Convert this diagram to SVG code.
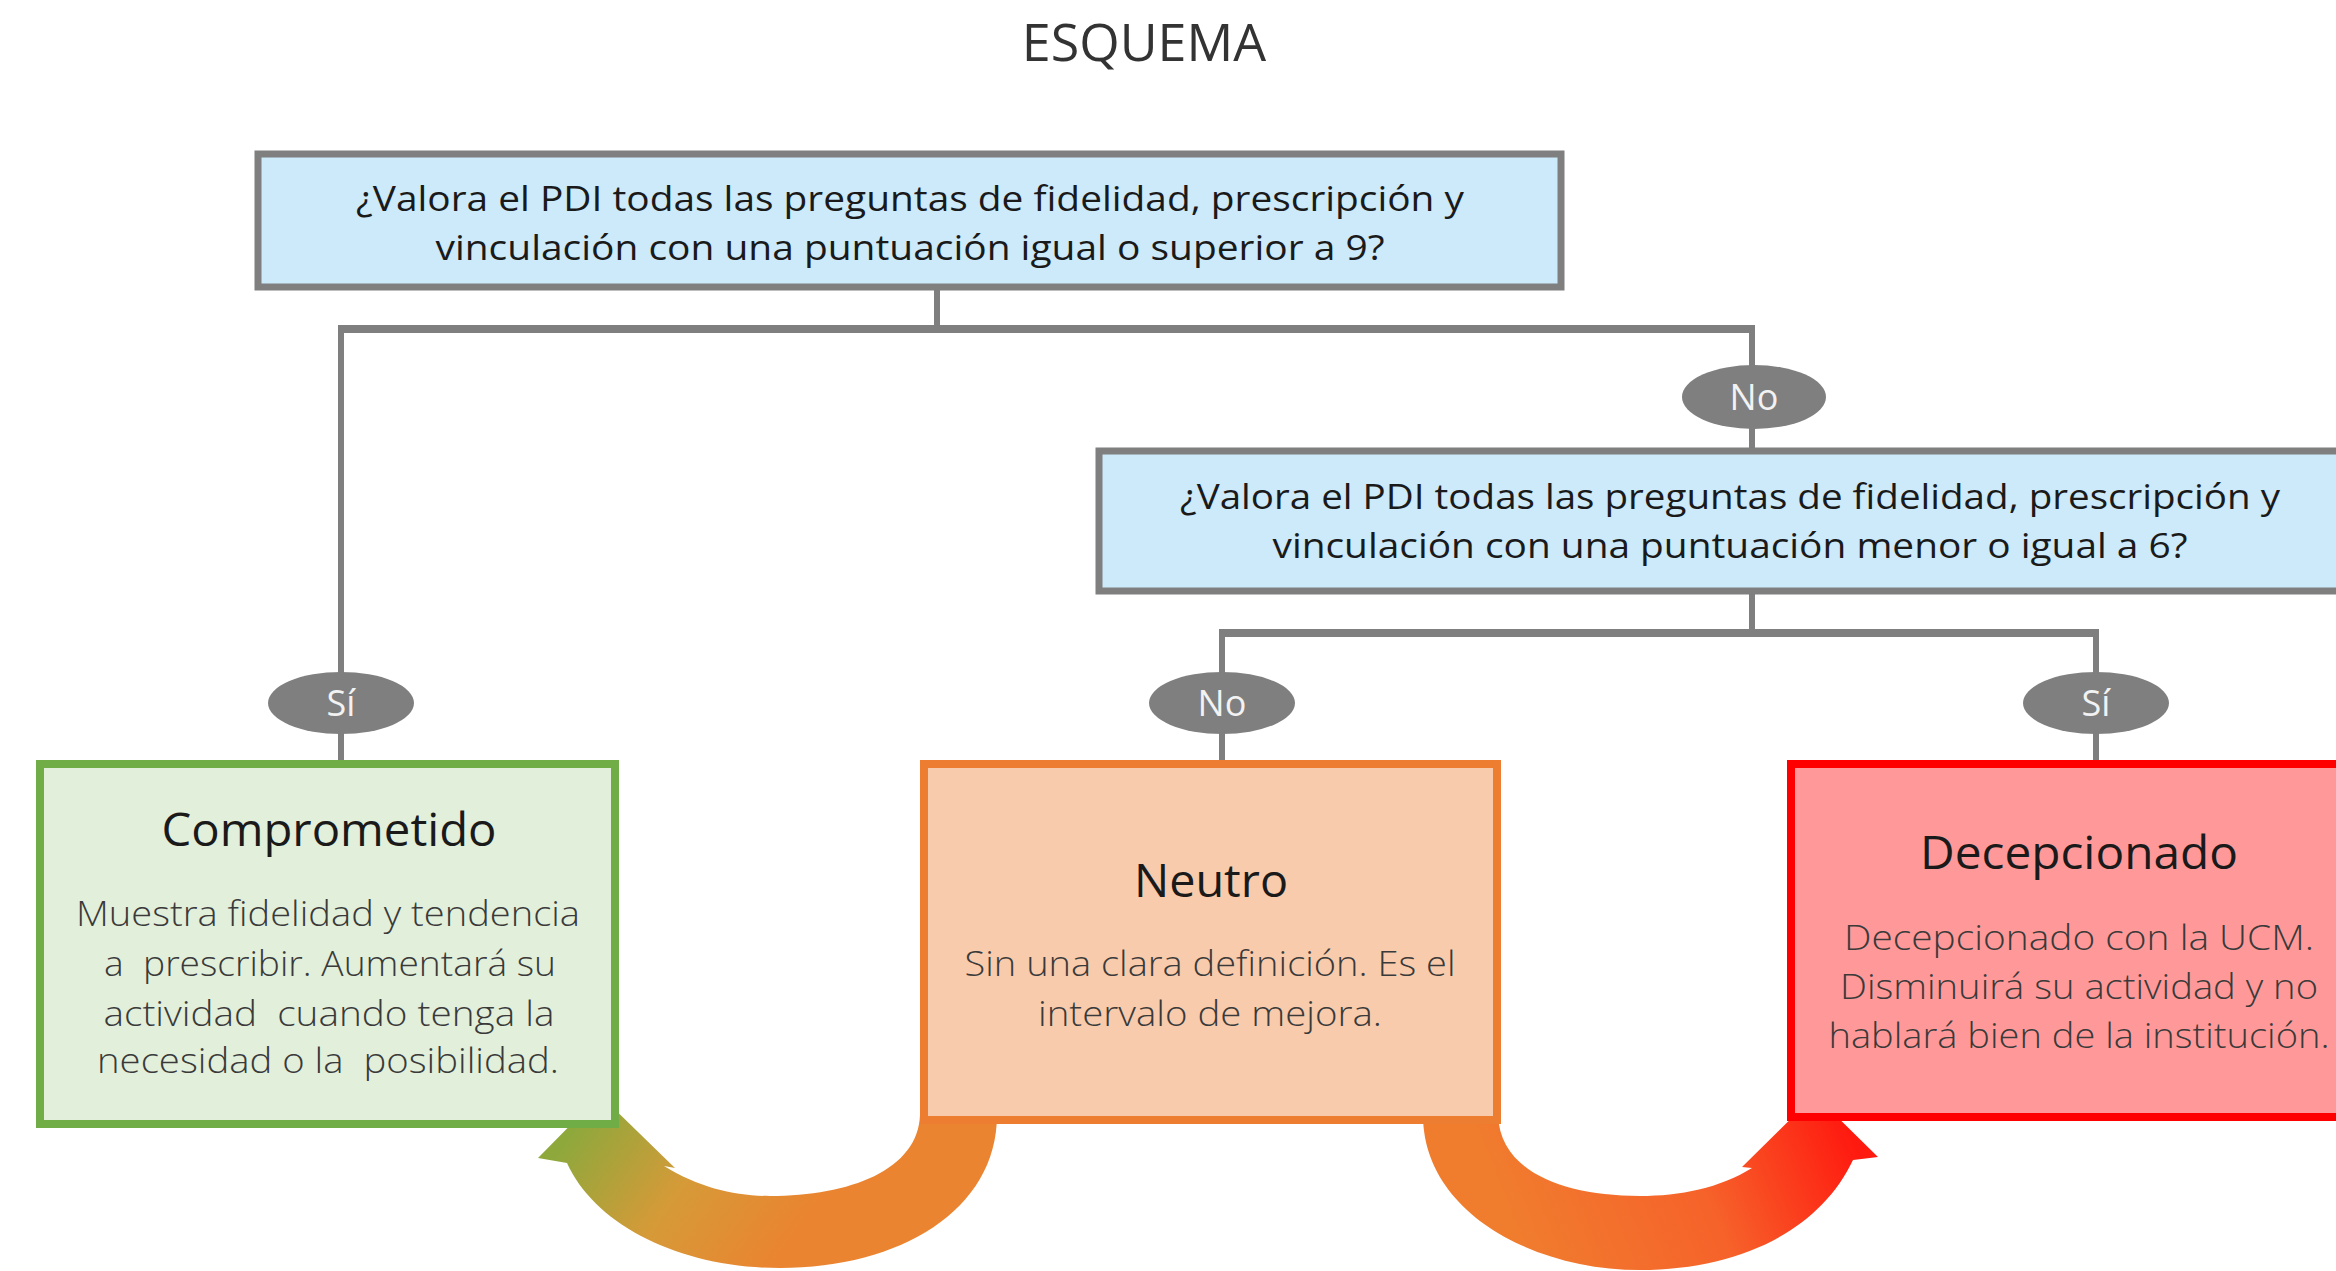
<svg xmlns="http://www.w3.org/2000/svg" width="2336" height="1271" viewBox="0 0 2336 1271">
<style>
.q{fill:#cdeafb;stroke:#7f7f7f;stroke-width:7}
.qt{font-family:"Open Sans","Liberation Sans",sans-serif;font-size:35px;fill:#1a1a1a;text-anchor:middle}
.ln{stroke:#7f7f7f;stroke-width:6;fill:none}
.hl{stroke:#7f7f7f;stroke-width:8;fill:none}
.el{fill:#7f7f7f}
.et{font-family:"Open Sans","Liberation Sans",sans-serif;font-size:36px;fill:#f2f2f2;text-anchor:middle}
.tt{font-family:"Open Sans","Liberation Sans",sans-serif;font-size:46px;fill:#1a1a1a;text-anchor:middle}
.bt{font-family:"Open Sans","Liberation Sans",sans-serif;font-weight:300;font-size:35px;fill:#3a3a3a;text-anchor:middle;white-space:pre}
</style>
<defs>
<linearGradient id="g1" gradientUnits="userSpaceOnUse" x1="575" y1="1130" x2="770" y2="1268">
<stop offset="0" stop-color="#8fa83c"/>
<stop offset="0.5" stop-color="#d69a38"/>
<stop offset="1" stop-color="#ea8430"/>
</linearGradient>
<linearGradient id="g2" gradientUnits="userSpaceOnUse" x1="1520" y1="1240" x2="1840" y2="1110">
<stop offset="0" stop-color="#f07c2e"/>
<stop offset="0.55" stop-color="#f6622a"/>
<stop offset="1" stop-color="#ff1a10"/>
</linearGradient>
</defs>
<rect width="2336" height="1271" fill="#ffffff"/>
<text x="1144" y="61" font-family="'Open Sans','Liberation Sans',sans-serif" font-size="52" fill="#333333" text-anchor="middle">ESQUEMA</text>

<g id="arrows">
<path fill="url(#g1)" d="M997,1115 C997,1210 900,1268 780,1268 C680,1268 595,1225 567,1163 L538,1158 L600,1095 L675,1168 L664,1166 C700,1188 735,1196 770,1196 C850,1196 918,1170 920,1115 Z"/>
<path fill="url(#g2)" d="M1423,1115 C1423,1210 1530,1270 1640,1270 C1740,1270 1820,1230 1853,1160 L1878,1157 L1815,1095 L1742,1167 L1752,1168 C1720,1188 1680,1196 1640,1196 C1560,1196 1500,1170 1498,1115 Z"/>
</g>

<g id="connectors">
<line class="ln" x1="937" y1="289" x2="937" y2="329"/>
<line class="hl" x1="338" y1="329" x2="1755" y2="329"/>
<line class="ln" x1="341" y1="329" x2="341" y2="764"/>
<line class="ln" x1="1752" y1="329" x2="1752" y2="452"/>
<line class="ln" x1="1752" y1="592" x2="1752" y2="633"/>
<line class="hl" x1="1219" y1="633" x2="2099" y2="633"/>
<line class="ln" x1="1222" y1="633" x2="1222" y2="764"/>
<line class="ln" x1="2096" y1="633" x2="2096" y2="764"/>
</g>

<g id="label-si-1"><ellipse class="el" cx="341" cy="703" rx="73" ry="31"/><text class="et" x="341" y="716">Sí</text></g>
<g id="label-no-1"><ellipse class="el" cx="1754" cy="397" rx="72" ry="32"/><text class="et" x="1754" y="410">No</text></g>
<g id="label-no-2"><ellipse class="el" cx="1222" cy="703" rx="73" ry="31"/><text class="et" x="1222" y="716">No</text></g>
<g id="label-si-2"><ellipse class="el" cx="2096" cy="703" rx="73" ry="31"/><text class="et" x="2096" y="716">Sí</text></g>

<g id="q1">
<rect class="q" x="258" y="154" width="1303" height="133"/>
<text class="qt" x="910" y="211" textLength="1108" lengthAdjust="spacingAndGlyphs">¿Valora el PDI todas las preguntas de fidelidad, prescripción y</text>
<text class="qt" x="910" y="260" textLength="949" lengthAdjust="spacingAndGlyphs">vinculación con una puntuación igual o superior a 9?</text>
</g>

<g id="q2">
<rect class="q" x="1099" y="451" width="1300" height="140"/>
<text class="qt" x="1730" y="509" textLength="1100" lengthAdjust="spacingAndGlyphs">¿Valora el PDI todas las preguntas de fidelidad, prescripción y</text>
<text class="qt" x="1730" y="558" textLength="915" lengthAdjust="spacingAndGlyphs">vinculación con una puntuación menor o igual a 6?</text>
</g>

<g id="comprometido">
<rect x="40" y="764" width="575" height="360" fill="#e2efda" stroke="#70ad47" stroke-width="8"/>
<text class="tt" x="329" y="846" textLength="335" lengthAdjust="spacingAndGlyphs">Comprometido</text>
<text class="bt" x="328" y="926" textLength="504" lengthAdjust="spacingAndGlyphs">Muestra fidelidad y tendencia</text>
<text class="bt" x="330" y="976" textLength="452" lengthAdjust="spacingAndGlyphs">a  prescribir. Aumentará su</text>
<text class="bt" x="329" y="1026" textLength="451" lengthAdjust="spacingAndGlyphs">actividad  cuando tenga la</text>
<text class="bt" x="328" y="1073" textLength="462" lengthAdjust="spacingAndGlyphs">necesidad o la  posibilidad.</text>
</g>

<g id="neutro">
<rect x="924" y="764" width="573" height="356" fill="#f8cbad" stroke="#ed7d31" stroke-width="8"/>
<text class="tt" x="1211" y="897" textLength="154" lengthAdjust="spacingAndGlyphs">Neutro</text>
<text class="bt" x="1210" y="976" textLength="491" lengthAdjust="spacingAndGlyphs">Sin una clara definición. Es el</text>
<text class="bt" x="1210" y="1026" textLength="344" lengthAdjust="spacingAndGlyphs">intervalo de mejora.</text>
</g>

<g id="decepcionado">
<rect x="1791" y="764" width="580" height="353" fill="#ff9999" stroke="#ff0000" stroke-width="8"/>
<text class="tt" x="2079" y="869" textLength="318" lengthAdjust="spacingAndGlyphs">Decepcionado</text>
<text class="bt" x="2079" y="950" textLength="470" lengthAdjust="spacingAndGlyphs">Decepcionado con la UCM.</text>
<text class="bt" x="2079" y="999" textLength="478" lengthAdjust="spacingAndGlyphs">Disminuirá su actividad y no</text>
<text class="bt" x="2079" y="1048" textLength="501" lengthAdjust="spacingAndGlyphs">hablará bien de la institución.</text>
</g>
</svg>
